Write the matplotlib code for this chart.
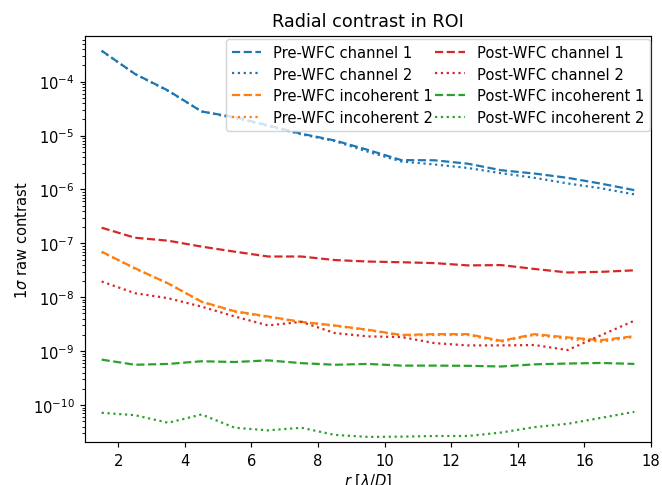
import numpy as np
import matplotlib
matplotlib.use("Agg")
import matplotlib.pyplot as plt

r = [1.5, 2.5, 3.5, 4.5, 5.5, 6.5, 7.5, 8.5, 9.5, 10.5, 11.5, 12.5, 13.5, 14.5, 15.5, 16.5, 17.5]

pre_ch1 = [3.74e-4, 1.39e-4, 6.8e-5, 2.79e-5, 2.19e-5, 1.54e-5, 1.08e-5, 8.1e-6, 5.4e-6,
           3.5e-6, 3.47e-6, 3.0e-6, 2.27e-6, 1.97e-6, 1.64e-6, 1.28e-6, 9.7e-7]
pre_ch2 = [3.7e-4, 1.38e-4, 6.7e-5, 2.8e-5, 2.1e-5, 1.5e-5, 1.05e-5, 7.9e-6, 5.0e-6,
           3.3e-6, 2.9e-6, 2.5e-6, 2.0e-6, 1.64e-6, 1.29e-6, 1.05e-6, 8.1e-7]
pre_inc1 = [7.0e-8, 3.45e-8, 1.8e-8, 8.3e-9, 5.5e-9, 4.4e-9, 3.5e-9, 3.0e-9, 2.5e-9,
            2.0e-9, 2.07e-9, 2.07e-9, 1.56e-9, 2.07e-9, 1.8e-9, 1.6e-9, 1.9e-9]
pre_inc2 = [6.9e-8, 3.4e-8, 1.8e-8, 8.2e-9, 5.4e-9, 4.3e-9, 3.45e-9, 2.95e-9, 2.45e-9,
            1.95e-9, 2.0e-9, 2.0e-9, 1.5e-9, 2.0e-9, 1.7e-9, 1.5e-9, 1.85e-9]
post_ch1 = [1.95e-7, 1.27e-7, 1.12e-7, 8.7e-8, 7.0e-8, 5.7e-8, 5.7e-8, 4.9e-8, 4.6e-8,
            4.46e-8, 4.3e-8, 3.9e-8, 3.95e-8, 3.35e-8, 2.88e-8, 2.96e-8, 3.16e-8]
post_ch2 = [1.96e-8, 1.19e-8, 9.6e-9, 6.7e-9, 4.4e-9, 3.0e-9, 3.5e-9, 2.17e-9, 1.88e-9,
            1.83e-9, 1.41e-9, 1.28e-9, 1.28e-9, 1.3e-9, 1.05e-9, 1.98e-9, 3.67e-9]
post_inc1 = [6.97e-10, 5.6e-10, 5.8e-10, 6.5e-10, 6.3e-10, 6.75e-10, 6.0e-10, 5.6e-10, 5.8e-10,
             5.4e-10, 5.4e-10, 5.35e-10, 5.2e-10, 5.7e-10, 5.9e-10, 6.05e-10, 5.8e-10]
post_inc2 = [7.2e-11, 6.5e-11, 4.7e-11, 6.7e-11, 3.8e-11, 3.4e-11, 3.8e-11, 2.8e-11, 2.57e-11,
             2.6e-11, 2.67e-11, 2.67e-11, 3.1e-11, 3.9e-11, 4.5e-11, 5.8e-11, 7.5e-11]

DPI = 106
fig = plt.figure(figsize=(662/DPI, 486/DPI), dpi=DPI)
ax = fig.add_axes([85/662, 1-443.3/486, (651-85)/662, (443.3-37.3)/486])

ax.semilogy(r, pre_ch1, '--', color='C0', label='Pre-WFC channel 1')
ax.semilogy(r, pre_ch2, ':', color='C0', label='Pre-WFC channel 2')
ax.semilogy(r, pre_inc1, '--', color='C1', label='Pre-WFC incoherent 1')
ax.semilogy(r, pre_inc2, ':', color='C1', label='Pre-WFC incoherent 2')
ax.semilogy(r, post_ch1, '--', color='C3', label='Post-WFC channel 1')
ax.semilogy(r, post_ch2, ':', color='C3', label='Post-WFC channel 2')
ax.semilogy(r, post_inc1, '--', color='C2', label='Post-WFC incoherent 1')
ax.semilogy(r, post_inc2, ':', color='C2', label='Post-WFC incoherent 2')

ax.set_xlim(1, 18)
ax.set_ylim(10**-10.69, 10**-3.16)
ax.set_xticks([2, 4, 6, 8, 10, 12, 14, 16, 18])
ax.set_title('Radial contrast in ROI', pad=7)
ax.set_xlabel(r'$r$ [$\lambda/D$]', labelpad=3)
ax.set_ylabel(r'1$\sigma$ raw contrast', labelpad=2)
ax.legend(ncol=2, loc='upper right', bbox_to_anchor=(650/662, 1-40/486),
          bbox_transform=fig.transFigure, borderaxespad=0,
          columnspacing=0.15, labelspacing=0.45)

fig.savefig('out.png', dpi=DPI)
